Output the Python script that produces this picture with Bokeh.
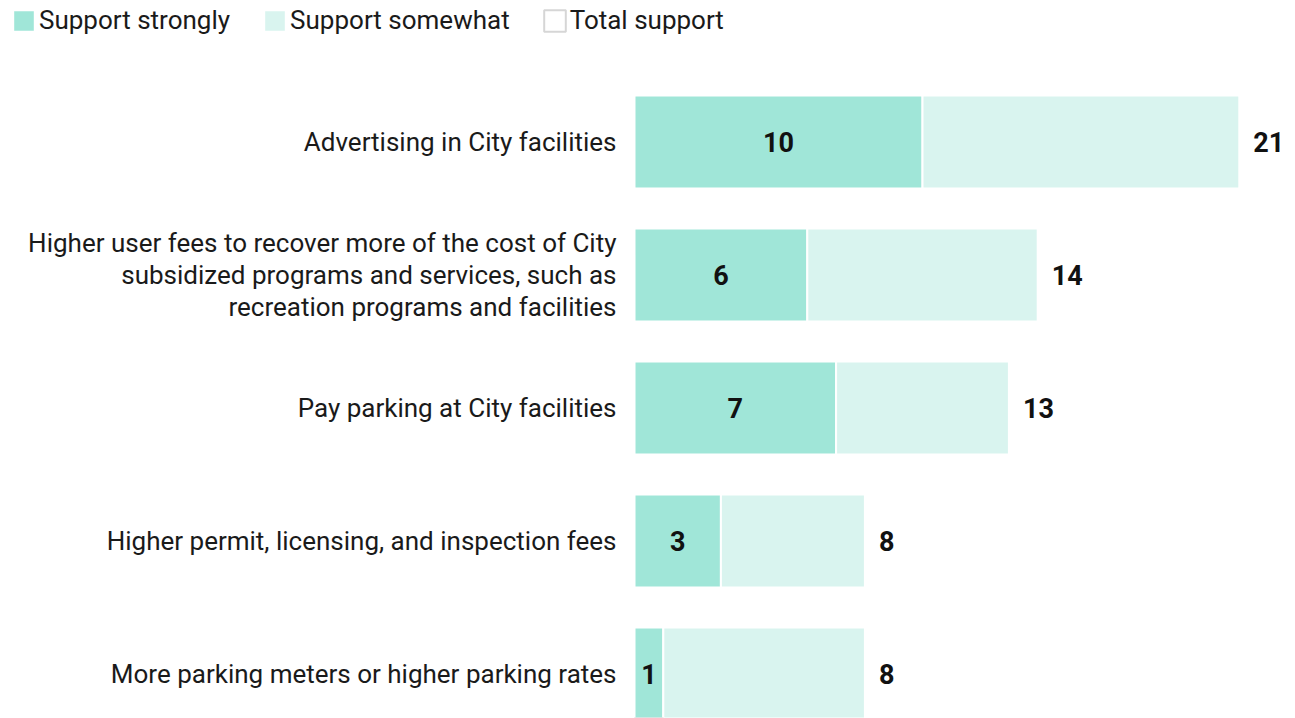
from bokeh.plotting import figure
from bokeh.models import ColumnDataSource, Legend, LegendItem
from bokeh.core.properties import value
from bokeh.embed import file_html
from bokeh.resources import INLINE

categories = [
    "Advertising in City facilities",
    "Higher user fees to recover more of the cost of City\nsubsidized programs and services, such as\nrecreation programs and facilities",
    "Pay parking at City facilities",
    "Higher permit, licensing, and inspection fees",
    "More parking meters or higher parking rates",
]
support_strongly = [10, 6, 7, 3, 1]
total_support = [21, 14, 13, 8, 8]
support_somewhat = [t - s for t, s in zip(total_support, support_strongly)]

C_STRONG = "#A0E6D8"
C_SOME = "#D9F4EF"
FONT = "Roboto"

n = len(categories)
ypos = [n - 1 - i for i in range(n)]

W, H = 1295, 718
PX_PER_UNIT = 28.8
X0 = 634
ROW = 133.0
x_start = -X0 / PX_PER_UNIT
x_end = (W - X0) / PX_PER_UNIT
y_end = (n - 1) + 141.5 / ROW
y_start = y_end - H / ROW

src = ColumnDataSource(dict(
    y=ypos,
    cat=categories,
    strong=support_strongly,
    some=support_somewhat,
    total=total_support,
    strong_mid=[s / 2 for s in support_strongly],
    strong_lbl=[str(s) for s in support_strongly],
    total_lbl=[str(t) for t in total_support],
    zero=[0] * n,
))

p = figure(width=W, height=H, x_range=(x_start, x_end), y_range=(y_start, y_end),
           output_backend="svg", toolbar_location=None, min_border=0)
p.axis.visible = False
p.grid.visible = False
p.outline_line_color = None
p.background_fill_color = "white"

r1 = p.hbar(y="y", left="zero", right="strong", height=0.7, source=src,
            fill_color=C_STRONG, line_color="white", line_width=2)
r2 = p.hbar(y="y", left="strong", right="total", height=0.7, source=src,
            fill_color=C_SOME, line_color="white", line_width=2)

# off-screen renderer for the "Total support" legend entry
r3 = p.hbar(y=[y_start - 10], left=[0], right=[1], height=0.5,
            fill_color="white", line_color="#d6d6d6", line_width=2)

p.text(x="strong_mid", y="y", text="strong_lbl", source=src,
       text_align="center", text_baseline="middle",
       text_font=value(FONT), text_font_size="27px", text_font_style="bold",
       text_color="#111111")
p.text(x="total", y="y", text="total_lbl", source=src, x_offset=14,
       text_align="left", text_baseline="middle",
       text_font=value(FONT), text_font_size="27px", text_font_style="bold",
       text_color="#111111")
p.text(x="zero", y="y", text="cat", source=src, x_offset=-18,
       text_align="right", text_baseline="middle",
       text_font=value(FONT), text_font_size="26px",
       text_color="#1a1a1a", text_line_height=1.08)

legend = Legend(items=[
    LegendItem(label="Support strongly", renderers=[r1]),
    LegendItem(label="Support somewhat", renderers=[r2]),
    LegendItem(label="Total support", renderers=[r3]),
], orientation="horizontal", location="top_left")
legend.label_text_font = FONT
legend.label_text_font_size = "26px"
legend.label_text_color = "#1a1a1a"
legend.label_height = 26
legend.glyph_width = 27
legend.glyph_height = 27
legend.label_standoff = 2
legend.spacing = 31
legend.padding = 2
legend.margin = 0
legend.location = (10, H - 4 - 31)
legend.border_line_color = None
legend.background_fill_alpha = 0
legend.click_policy = "none"
p.add_layout(legend)

open("out.html", "w").write(file_html(p, INLINE))
